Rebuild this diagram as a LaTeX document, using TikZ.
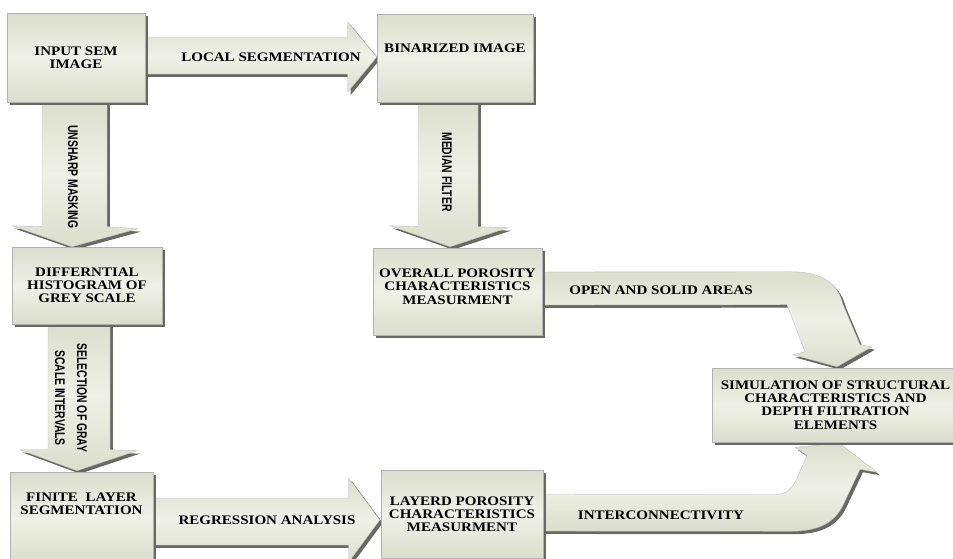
\documentclass[tikz,border=0pt]{standalone}
\usepackage{fontspec}
\newfontfamily\narrowfont[FakeStretch=0.74]{Liberation Sans}
\newfontfamily\boxfont[FakeStretch=1.15]{Liberation Serif}
\usetikzlibrary{calc,shadows,backgrounds}
\definecolor{boxlight}{RGB}{239,241,231}
\definecolor{boxdark}{RGB}{219,222,204}
\definecolor{shadowgrey}{RGB}{104,105,98}
\tikzset{
	box/.style={
		rectangle,
		draw=black!30,
		line width=0.4pt,
		top color=boxdark,
		bottom color=boxdark,
		middle color=boxlight,
		drop shadow={shadow xshift=2.2pt,shadow yshift=-2.2pt,fill=shadowgrey,opacity=1},
		align=center,
		inner sep=0pt,
		font=\boxfont\bfseries\fontsize{9.8}{9.9}\selectfont,
	},
	blockarrow/.style={
		draw=black!25,
		line width=0.3pt,
		top color=boxdark,
		bottom color=boxdark,
		middle color=boxlight,
		drop shadow={shadow xshift=2.2pt,shadow yshift=-2.2pt,fill=shadowgrey,opacity=1},
	},
	arrowlabel/.style={
		inner sep=0pt,
		font=\boxfont\bfseries\fontsize{9.8}{9.9}\selectfont,
	},
	sidelabel/.style={
		inner sep=0pt,
		rotate=-90,
		align=center,
		font=\narrowfont\bfseries\fontsize{10.5}{16.5}\selectfont,
	},
}
\begin{document}
\begin{tikzpicture}[x=0.75pt,y=-0.75pt]
	\useasboundingbox (0,0) rectangle (953,558);

	% process boxes
	\node [box,minimum width=138*0.75pt,minimum height=89*0.75pt] (in) at (76,57.5) {INPUT SEM\\IMAGE};
	\node [box,minimum width=156*0.75pt,minimum height=88*0.75pt] (bin) at (455,58) {BINARIZED IMAGE\\[5pt]\mbox{}};
	\node [box,minimum width=150*0.75pt,minimum height=77*0.75pt] (diff) at (87,285.5) {DIFFERNTIAL\\HISTOGRAM OF\\GREY SCALE};
	\node [box,minimum width=169*0.75pt,minimum height=87*0.75pt] (ov) at (457.5,291.5) {OVERALL POROSITY\\CHARACTERISTICS\\MEASURMENT\\[-2.4pt]\mbox{}};
	\node [box,minimum width=143*0.75pt,minimum height=90*0.75pt] (fin) at (81.5,517) {FINITE\ \ LAYER\\SEGMENTATION\\[10pt]\mbox{}};
	\node [box,minimum width=162*0.75pt,minimum height=88*0.75pt] (lay) at (462,514) {LAYERD POROSITY\\CHARACTERISTICS\\MEASURMENT};
	\node [box,minimum width=247*0.75pt,minimum height=74*0.75pt] (sim) at (835.5,405) {SIMULATION OF STRUCTURAL\\CHARACTERISTICS AND\\DEPTH FILTRATION\\ELEMENTS};

	% block arrows behind the boxes
	\begin{pgfonlayer}{background}
		\path [blockarrow] ($(in.east)+(-3,-20.5)$) -- ($(bin.west)+(-29,-21)$) -- ($(bin.west)+(-29,-36)$) -- ($(bin.west)+(0,-1)$) -- ($(bin.west)+(-29,34)$) -- ($(bin.west)+(-29,16)$) -- ($(in.east)+(-3,16.5)$) -- cycle;
		\path [blockarrow] ($(in.south)+(-34,-3)$) -- ($(in.south)+(31,-3)$) -- ($(in.south |- diff.north)+(31,-20)$) -- ($(in.south |- diff.north)+(62,-18)$) -- ($(in.south |- diff.north)+(-4,0)$) -- ($(in.south |- diff.north)+(-64,-21)$) -- ($(in.south |- diff.north)+(-34,-20)$) -- cycle;
		\path [blockarrow] ($(diff.south)+(-39,-3)$) -- ($(diff.south)+(23,-3)$) -- ($(diff.south |- fin.north)+(23,-22)$) -- ($(diff.south |- fin.north)+(50,-21)$) -- ($(diff.south |- fin.north)+(-10,-1)$) -- ($(diff.south |- fin.north)+(-67,-22)$) -- ($(diff.south |- fin.north)+(-39,-22)$) -- cycle;
		\path [blockarrow] ($(bin.south)+(-37,-3)$) -- ($(bin.south)+(23,-3)$) -- ($(bin.south |- ov.north)+(23,-21)$) -- ($(bin.south |- ov.north)+(53,-20)$) -- ($(bin.south |- ov.north)+(-5,-1)$) -- ($(bin.south |- ov.north)+(-65,-22)$) -- ($(bin.south |- ov.north)+(-37,-21)$) -- cycle;
		\path [blockarrow] ($(fin.east)+(-3,-19)$) -- ($(lay.west)+(-32,-16)$) -- ($(lay.west)+(-32,-36)$) -- ($(lay.west)+(-1,6)$) -- ($(lay.west)+(-32,48)$) -- ($(lay.west)+(-32,31)$) -- ($(fin.east)+(-3,28)$) -- cycle;
		\path [blockarrow] ($(ov.east)+(-3,-19.5)$) -- ($(sim.north)+(-45.5,-96)$) .. controls ($(sim.north)+(-10.5,-96)$) and ($(sim.north)+(2.5,-83)$) .. ($(sim.north)+(7.5,-63)$) -- ($(sim.north)+(24.5,-23)$) -- ($(sim.north)+(36.5,-21)$) -- ($(sim.north)+(1.5,-1)$) -- ($(sim.north)+(-42.5,-13)$) -- ($(sim.north)+(-30.5,-16)$) -- ($(sim.north)+(-48.5,-63)$) -- ($(ov.east)+(-3,13.5)$) -- cycle;
		\path [blockarrow] ($(lay.east)+(-3,-20)$) -- ($(sim.south)+(-60.5,52)$) .. controls ($(sim.south)+(-47.5,52)$) and ($(sim.south)+(-43.5,46)$) .. ($(sim.south)+(-38.5,36)$) -- ($(sim.south)+(-28.5,13)$) -- ($(sim.south)+(-40.5,5)$) -- ($(sim.south)+(4,1)$) -- ($(sim.south)+(41.5,30)$) -- ($(sim.south)+(24.5,27)$) -- ($(sim.south)+(7.5,63)$) .. controls ($(sim.south)+(-2.5,83)$) and ($(sim.south)+(-20.5,89)$) .. ($(sim.south)+(-45.5,89)$) -- ($(lay.east)+(-3,17)$) -- cycle;
	\end{pgfonlayer}

	% arrow texts
	\node [arrowlabel] (local) at (271,57) {LOCAL SEGMENTATION};
	\node [arrowlabel] (regr) at (267,520) {REGRESSION ANALYSIS};
	\node [arrowlabel] (open) at (661,290) {OPEN AND SOLID AREAS};
	\node [arrowlabel] (inter) at (661,515) {INTERCONNECTIVITY};
	\node [sidelabel] (unsharp) at (73,177) {UNSHARP MASKING};
	\node [sidelabel] (median) at (447,172) {MEDIAN FILTER};
	\node [sidelabel] (select) at (71,398) {SELECTION OF GRAY\\SCALE INTERVALS};
\end{tikzpicture}
\end{document}
